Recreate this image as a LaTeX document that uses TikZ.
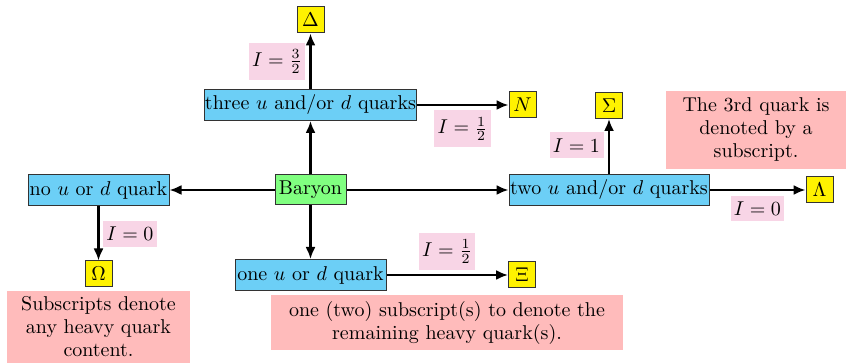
\documentclass[tikz,border=0pt]{standalone}
\usetikzlibrary{arrows.meta}
\definecolor{boxblue}{HTML}{6CCFF6}
\definecolor{boxgreen}{HTML}{80FF80}
\definecolor{boxyellow}{HTML}{FFF200}
\definecolor{lblpink}{HTML}{F8D5E6}
\definecolor{notepink}{HTML}{FFBBBB}
\tikzset{
  base/.style={font=\fontsize{10}{11.5}\selectfont, inner sep=0pt, align=center},
  quarkbox/.style={base, draw=black!80, line width=0.5pt, fill=boxblue, minimum height=15.5pt},
  barybox/.style={base, draw=black!80, line width=0.5pt, fill=boxgreen, minimum height=15pt},
  particle/.style={base, draw=black!80, line width=0.5pt, fill=boxyellow, minimum width=13.5pt, minimum height=13pt},
  isolbl/.style={base, fill=lblpink},
  note/.style={base, fill=notepink},
  conn/.style={-{Latex[length=6pt,width=5pt]}, line width=1.1pt}
}
\begin{document}
\begin{tikzpicture}[x=0.5pt,y=-0.5pt]
\useasboundingbox (0,0) rectangle (846,363);
% main nodes
\node[barybox, minimum width=35.5pt] (bar) at (310.5,190) {Baryon};
\node[quarkbox, minimum width=105.5pt] (three) at (310.5,105) {three $u$ and/or $d$ quarks};
\node[quarkbox, minimum width=70.5pt] (none) at (98.5,190) {no $u$ or $d$ quark};
\node[quarkbox, minimum width=75.5pt] (one) at (310.5,275) {one $u$ or $d$ quark};
\node[quarkbox, minimum width=100pt] (two) at (609,190) {two $u$ and/or $d$ quarks};
% particles
\node[particle] (delta) at (310.5,20) {$\Delta$};
\node[particle] (nuc) at (522.5,105) {$N$};
\node[particle] (omega) at (98.5,274) {$\Omega$};
\node[particle] (xi) at (522,275) {$\Xi$};
\node[particle] (sigma) at (609,105.5) {$\Sigma$};
\node[particle] (lambda) at (819.5,190) {$\Lambda$};
% isospin labels
\node[isolbl, minimum width=28pt, minimum height=18.5pt] (l1) at (277,61.5) {$I=\frac{3}{2}$};
\node[isolbl, minimum width=28.5pt, minimum height=18.5pt] (l2) at (462.5,129) {$I=\frac{1}{2}$};
\node[isolbl, minimum width=27pt, minimum height=13pt] (l3) at (130,234) {$I=0$};
\node[isolbl, minimum width=28pt, minimum height=18.5pt] (l4) at (447,251.5) {$I=\frac{1}{2}$};
\node[isolbl, minimum width=27pt, minimum height=13pt] (l5) at (576.5,145.5) {$I=1$};
\node[isolbl, minimum width=26.5pt, minimum height=12.5pt] (l6) at (757.5,208.5) {$I=0$};
% notes
\node[note, minimum width=91.5pt, minimum height=36pt] (n1) at (98.5,327) {Subscripts denote\\any heavy quark\\content.};
\node[note, minimum width=176pt, minimum height=27.5pt] (n2) at (447,322.5) {one (two) subscript(s) to denote the\\remaining heavy quark(s).};
\node[note, minimum width=90pt, minimum height=39pt] (n3) at (756,130) {The 3rd quark is\\denoted by a\\subscript.};
% connectors
\draw[conn] (bar) -- (three);
\draw[conn] (bar) -- (none);
\draw[conn] (bar) -- (one);
\draw[conn] (bar) -- (two);
\draw[conn] (three) -- (delta);
\draw[conn] (three) -- (nuc);
\draw[conn] (none) -- (omega);
\draw[conn] (one) -- (xi);
\draw[conn] (two) -- (sigma);
\draw[conn] (two) -- (lambda);
\end{tikzpicture}
\end{document}
